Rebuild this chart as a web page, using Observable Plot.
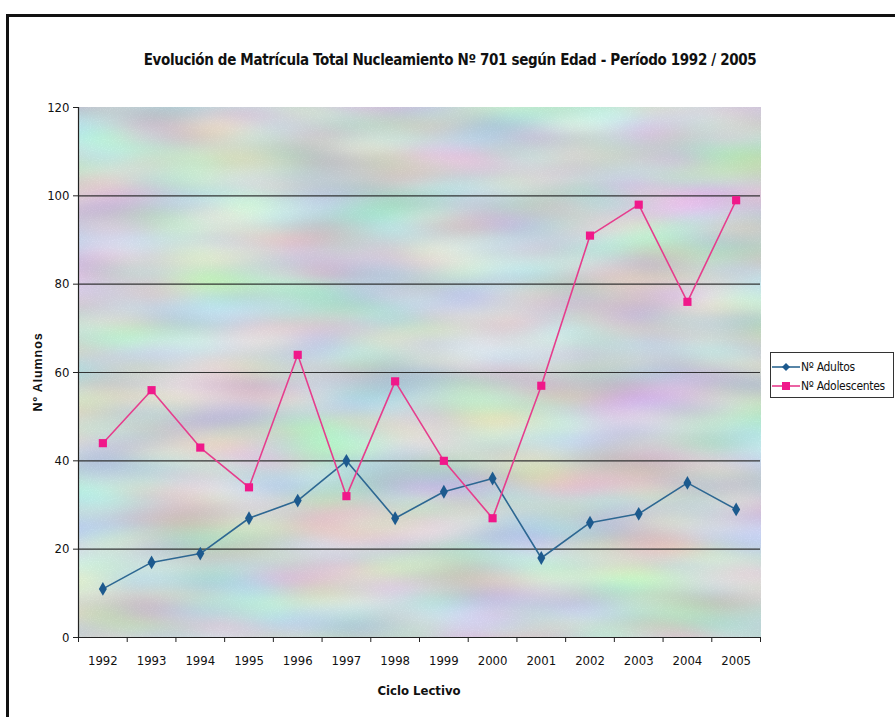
<!DOCTYPE html>
<html>
<head>
<meta charset="utf-8">
<script src="https://cdn.jsdelivr.net/npm/d3@7"></script>
<script src="https://cdn.jsdelivr.net/npm/@observablehq/plot@0.6"></script>
<style>
  html, body { margin: 0; padding: 0; background: #fff; }
  #wrap { position: relative; width: 895px; height: 717px; overflow: hidden;
          font-family: "Liberation Sans Narrow", "Arial Narrow", "DejaVu Sans Condensed", sans-serif; color: #111; }
  #border { position: absolute; left: 6px; top: 14px; width: 940px; height: 760px;
            border-left: 3px solid #111; border-top: 3px solid #111; box-sizing: border-box; }
  #title { position: absolute; left: 0; width: 900px; top: 51px; text-align: center;
           font-weight: bold; font-size: 15px; letter-spacing: -0.35px; }
  #ylab { position: absolute; left: 38px; top: 372px; transform: translate(-50%, -50%) rotate(-90deg);
          font-family: "Liberation Sans", Arial, sans-serif; font-weight: bold; font-size: 12.5px; white-space: nowrap; letter-spacing: 0.9px; }
  #xlab { position: absolute; left: 419px; top: 683px; transform: translateX(-50%);
          font-weight: bold; font-size: 13px; white-space: nowrap; }
  #legend { position: absolute; left: 770px; top: 352px; width: 124px; height: 46px;
            border: 1px solid #333; box-sizing: border-box; background: #fff; font-size: 12px; letter-spacing: -0.3px; }
  .li { position: absolute; left: 1px; height: 16px; display: flex; align-items: center; white-space: nowrap; }
  .li svg { margin-right: 1px; }
  svg.plot { position: absolute; left: 0; top: 0; }
</style>
</head>
<body>
<div id="wrap">
  <div id="border"></div>
  <div id="title"></div>
  <div id="ylab"></div>
  <div id="xlab"></div>
  <div id="legend"></div>
</div>
<script>
const years = [1992, 1993, 1994, 1995, 1996, 1997, 1998, 1999, 2000, 2001, 2002, 2003, 2004, 2005];
const adultos = [11, 17, 19, 27, 31, 40, 27, 33, 36, 18, 26, 28, 35, 29];
const adolescentes = [44, 56, 43, 34, 64, 32, 58, 40, 27, 57, 91, 98, 76, 99];
const yTicks = [0, 20, 40, 60, 80, 100, 120];
const seriesNames = ["Nº Adultos", "Nº Adolescentes"];
const titleText = "Evolución de Matrícula Total Nucleamiento Nº 701 según Edad - Período 1992 / 2005";
const yLabel = "Nº Alumnos";
const xLabel = "Ciclo Lectivo";

const blueLine = "#2d6792", blueMark = "#1d5a8e";
const pinkLine = "#e63d8d", pinkMark = "#f0188a";

const dataA = years.map((y, i) => ({year: y, value: adultos[i]}));
const dataB = years.map((y, i) => ({year: y, value: adolescentes[i]}));
const xEdges = [...years.map(y => y - 0.5), years[years.length - 1] + 0.5];
const font = `"Liberation Sans Narrow", "Arial Narrow", "DejaVu Sans Condensed", sans-serif`;

const chart = Plot.plot({
  width: 895,
  height: 717,
  marginLeft: 78,
  marginRight: 135,
  marginTop: 107,
  marginBottom: 80,
  style: {fontFamily: font, fontSize: "13px", color: "#111", background: "transparent", overflow: "visible"},
  x: {type: "linear", domain: [xEdges[0], xEdges[xEdges.length - 1]], axis: null},
  y: {domain: [0, 120], axis: null},
  marks: [
    Plot.frame({fill: "#c8d2d6", stroke: null}),
    Plot.gridY(yTicks.filter(d => d > 0 && d < 120), {stroke: "#222", strokeOpacity: 0.9, strokeWidth: 1.2}),
    Plot.axisY(yTicks, {tickSize: 5, tickPadding: 4, fontSize: 13, stroke: "#222", fill: "#111", label: null}),
    Plot.axisX(xEdges, {tickSize: 5, tickFormat: () => "", stroke: "#222", label: null}),
    Plot.axisX(years, {tickSize: 0, tickPadding: 18, tickFormat: d => String(d), fontSize: 13, fill: "#111", label: null}),
    Plot.ruleX([xEdges[0]], {stroke: "#222", strokeWidth: 1.2}),
    Plot.ruleY([0], {stroke: "#222", strokeWidth: 1.2}),
    Plot.line(dataA, {x: "year", y: "value", stroke: blueLine, strokeWidth: 1.6}),
    Plot.line(dataB, {x: "year", y: "value", stroke: pinkLine, strokeWidth: 1.6}),
    Plot.dot(dataA, {x: "year", y: "value", symbol: "diamond", r: 4.2, fill: blueMark, stroke: null}),
    Plot.dot(dataB, {x: "year", y: "value", symbol: "square", r: 4.6, fill: pinkMark, stroke: null})
  ]
});

// pastel noisy background for the plot area
const ns = "http://www.w3.org/2000/svg";
const defs = document.createElementNS(ns, "defs");
defs.innerHTML = `
  <filter id="pastel" x="0" y="0" width="100%" height="100%" filterUnits="objectBoundingBox" color-interpolation-filters="sRGB">
    <feTurbulence type="fractalNoise" baseFrequency="0.007 0.022" numOctaves="2" seed="11" result="n"/>
    <feColorMatrix in="n" type="matrix" values="
      0.34 0 0 0 0.62
      0 0.34 0 0 0.66
      0 0 0.32 0 0.67
      0 0 0 0 1" result="c"/>
    <feTurbulence type="fractalNoise" baseFrequency="0.9" numOctaves="1" seed="3" result="g"/>
    <feColorMatrix in="g" type="matrix" values="
      0.10 0 0 0 -0.05
      0.10 0 0 0 -0.05
      0.10 0 0 0 -0.05
      0 0 0 0 1" result="gg"/>
    <feComposite in="c" in2="gg" operator="arithmetic" k1="0" k2="1" k3="1" k4="0"/>
  </filter>`;
chart.insertBefore(defs, chart.firstChild);
let frame = chart.querySelector('[aria-label="frame"]');
if (frame && frame.tagName.toLowerCase() !== "rect") frame = frame.querySelector("rect");
if (frame) frame.setAttribute("filter", "url(#pastel)");

document.getElementById("wrap").appendChild(chart);
document.getElementById("title").textContent = titleText;
document.getElementById("ylab").textContent = yLabel;
document.getElementById("xlab").textContent = xLabel;

// legend
const legend = document.getElementById("legend");
[[seriesNames[0], blueLine, blueMark, "diamond"], [seriesNames[1], pinkLine, pinkMark, "square"]].forEach((s, i) => {
  const row = document.createElement("div");
  row.className = "li";
  row.style.top = (6 + i * 19) + "px";
  const sym = s[3] === "diamond"
    ? `<path d="M14,4 L18,8 L14,12 L10,8 Z" fill="${s[2]}"/>`
    : `<rect x="10" y="4" width="8" height="8" fill="${s[2]}"/>`;
  row.innerHTML = `<svg width="28" height="16"><line x1="0" y1="8" x2="28" y2="8" stroke="${s[1]}" stroke-width="1.6"/>${sym}</svg><span>${s[0]}</span>`;
  legend.appendChild(row);
});
</script>
</body>
</html>
